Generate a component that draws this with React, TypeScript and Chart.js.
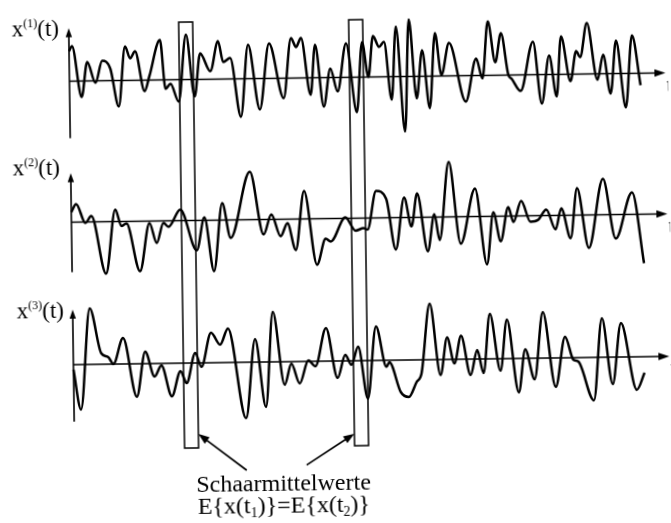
import React, { useEffect, useRef } from "react";
import { Chart, registerables } from "chart.js";

Chart.register(...registerables);

// ---- data: time samples (t) and values of the three sample functions ----
const sig1T = [0, 3, 12, 18, 26, 33, 41, 49, 56, 61, 66, 75, 80, 91, 96, 101, 109, 117, 125, 131, 141, 149, 154, 161, 171, 179, 190, 200, 214, 222, 227, 232, 241, 246, 254, 261, 268, 277, 287, 293, 299, 304, 310, 315, 322, 327, 335, 340, 347, 353, 360, 366, 372, 380, 396, 407, 413, 419, 426, 432, 439, 442, 451, 464, 472, 480, 487, 492, 501, 507, 511, 518, 528, 534, 541, 547, 556, 563, 571];
const sig1V = [3.0, 3.5, -1.6, 1.9, -0.2, 2.0, 1.2, -2.6, 3.4, 2.2, 2.9, -1.1, 0.4, 4.0, -0.9, -0.4, -2.2, 4.5, -1.7, 2.6, 0.8, 3.8, 1.7, 2.1, -3.8, 3.4, -3.1, 3.5, -2.0, 4.0, 3.1, 4.0, -1.7, 3.3, -2.9, 0.9, -1.4, 3.4, -3.5, 3.5, 0.0, 4.1, 3.0, 3.5, -2.3, 5.0, -5.5, 5.7, -2.2, 2.6, -3.2, 4.3, 0.1, 3.3, -2.6, 1.7, -0.3, 5.4, 1.3, 4.2, 0.0, -0.35, -1.6, 3.3, -2.9, 1.9, -2.2, 3.8, -0.7, 2.3, 1.7, 5.1, -0.6, 1.9, -2.0, 3.3, -3.4, 3.8, -1.2];

const sig2T = [0, 5, 14, 20, 34, 44, 50, 55, 68, 78, 85, 92, 97, 109, 125, 133, 142, 151, 159, 179, 192, 200, 209, 216, 224, 233, 245, 254, 259, 274, 284, 292, 296, 305, 315, 324, 333, 340, 346, 356, 363, 368, 378, 389, 404, 415, 422, 429, 437, 442, 450, 459, 467, 475, 484, 490, 499, 506, 517, 532, 544, 561, 572];
const sig2V = [1.0, 1.8, -0.1, 0.6, -5.2, 1.2, -0.45, -0.2, -5.0, -0.2, -2.2, -0.2, -0.6, 1.1, -3.0, 0.3, -5.1, 1.7, -1.8, 4.8, -1.5, 0.5, -1.7, -0.4, -3.1, 2.8, -4.6, -2.0, -2.3, 0.1, -1.25, -1.0, -1.15, 2.7, 1.9, -3.2, 2.0, -0.9, 2.4, -3.4, 0.3, -2.3, 5.5, -2.7, 2.8, -4.8, 0.4, -2.5, 0.9, -0.6, 1.5, -0.6, -0.4, 0.6, -1.4, 0.7, -2.3, 2.7, -3.3, 3.6, -2.4, 2.2, -4.9];

const sig3T = [0, 7, 17, 28, 35, 40, 50, 63, 72, 81, 88, 98, 107, 113, 122, 128, 138, 147, 155, 172, 182, 192, 200, 211, 218, 226, 235, 242, 253, 264, 272, 278, 285, 294, 303, 313, 316, 327, 335, 343, 348, 357, 367, 374, 381, 388, 397, 404, 410, 417, 427, 434, 445, 452, 461, 470, 482, 492, 500, 505, 520, 529, 539, 548, 563, 571];
const sig3V = [-0.5, -4.5, 5.6, 1.1, 0.7, 0.0, 2.6, -3.3, 1.2, -1.3, -0.2, -3.3, -0.8, -2.0, 1.0, -0.4, 3.0, 1.8, 3.4, -5.6, 2.3, -4.5, 5.0, -2.3, -0.2, -2.2, 0.1, -0.5, 3.3, -1.7, 0.6, -0.4, 1.4, -3.8, 3.4, -0.65, -0.2, -3.2, -3.7, -2.2, -1.35, 5.6, -1.55, 2.2, -0.4, 2.35, -1.6, 0.9, -1.4, 4.5, -1.2, 3.9, -3.4, 0.9, -2.1, 4.6, -2.9, 2.1, -0.2, -0.4, -4.3, 3.9, -2.7, 3.4, -3.3, -1.6];

// text
const SIGNAL_LABELS = ["1", "2", "3"];
const AXIS_LABEL = "t";
const CAPTION_1 = "Schaarmittelwerte";
const CAPTION_2_PARTS = ["E{x(t", "1", ")}=E{x(t", "2", ")}"];

// time instants marked by the windows (t-ranges)
const WINDOW_T = [
  [110, 124],
  [280, 294],
];

const FONT = "'Liberation Serif', 'Times New Roman', serif";

export default function App() {
  const ref = useRef<HTMLCanvasElement>(null);

  useEffect(() => {
    const canvas = ref.current!;
    const pts = (ts: number[], vs: number[]) => ts.map((t, i) => ({ x: t, y: vs[i] }));

    const overlay = {
      id: "overlay",
      afterDatasetsDraw(chart: any) {
        const ctx: CanvasRenderingContext2D = chart.ctx;
        const xs = chart.scales.x;
        const yScales = [chart.scales.y1, chart.scales.y2, chart.scales.y3];
        ctx.save();
        ctx.strokeStyle = "#000";
        ctx.fillStyle = "#000";
        ctx.lineCap = "butt";

        const line = (x1: number, y1: number, x2: number, y2: number, w: number) => {
          ctx.lineWidth = w;
          ctx.beginPath();
          ctx.moveTo(x1, y1);
          ctx.lineTo(x2, y2);
          ctx.stroke();
        };
        const head = (tx: number, ty: number, fx: number, fy: number, len: number, hw: number) => {
          const a = Math.atan2(ty - fy, tx - fx);
          const bx = tx - Math.cos(a) * len;
          const by = ty - Math.sin(a) * len;
          ctx.beginPath();
          ctx.moveTo(tx, ty);
          ctx.lineTo(bx + Math.sin(a) * hw, by - Math.cos(a) * hw);
          ctx.lineTo(bx - Math.sin(a) * hw, by + Math.cos(a) * hw);
          ctx.closePath();
          ctx.fill();
        };
        const mixed = (parts: { s: string; size: number; dy: number }[], x: number, y: number, center: boolean) => {
          let w = 0;
          parts.forEach((p) => {
            ctx.font = `${p.size}px ${FONT}`;
            w += ctx.measureText(p.s).width;
          });
          let cx = center ? x - w / 2 : x;
          ctx.textBaseline = "alphabetic";
          ctx.textAlign = "left";
          parts.forEach((p) => {
            ctx.font = `${p.size}px ${FONT}`;
            ctx.fillText(p.s, cx, y + p.dy);
            cx += ctx.measureText(p.s).width;
          });
        };

        const vTop = [5.3, 4.9, 5.5];
        const vBot = [-5.7, -5.0, -5.7];
        const lblY = [4.6, 4.8, 4.7];
        const lblT = [-57, -58, -56];
        const xa = xs.getPixelForValue(0);
        const xe = xs.getPixelForValue(596);

        yScales.forEach((ys: any, k: number) => {
          const y0 = ys.getPixelForValue(0);
          // time axis
          line(xa, y0, xe - 8, y0, 1.6);
          head(xe, y0, xa, y0, 11, 3.8);
          // value axis
          const yt = ys.getPixelForValue(vTop[k]);
          const yb = ys.getPixelForValue(vBot[k]);
          line(xa, yb, xa, yt + 7, 1.6);
          head(xa, yt, xa, yb, 9, 3.2);
          // label x^(k)(t)
          mixed(
            [
              { s: "x", size: 23, dy: 0 },
              { s: "(" + SIGNAL_LABELS[k] + ")", size: 12, dy: -9 },
              { s: "(t)", size: 23, dy: 0 },
            ],
            xs.getPixelForValue(lblT[k]),
            ys.getPixelForValue(lblY[k]),
            false
          );
          // t at axis end
          ctx.font = `23px ${FONT}`;
          ctx.fillText(AXIS_LABEL, xs.getPixelForValue(597), ys.getPixelForValue(-1.9));
        });

        // windows spanning all three functions
        const topY = yScales[0].getPixelForValue(5.75);
        const botY = yScales[2].getPixelForValue(-8.5);
        WINDOW_T.forEach(([a, b]) => {
          ctx.lineWidth = 1.5;
          const xl = xs.getPixelForValue(a);
          const xr = xs.getPixelForValue(b);
          ctx.strokeRect(xl, topY, xr - xl, botY - topY);
        });

        // caption
        const y3 = yScales[2];
        const cx = xs.getPixelForValue(208.5);
        mixed([{ s: CAPTION_1, size: 24, dy: 0 }], cx, y3.getPixelForValue(-12.93), true);
        mixed(
          CAPTION_2_PARTS.map((s, i) => ({ s, size: i % 2 === 1 ? 14 : 24, dy: i % 2 === 1 ? 4 : 0 })),
          cx,
          y3.getPixelForValue(-15.13),
          true
        );

        // arrows from caption to windows
        const arrows = [
          [171.8, -10.8, WINDOW_T[0][1], -7.1],
          [231.8, -10.36, WINDOW_T[1][0], -7.3],
        ];
        arrows.forEach(([t1, v1, t2, v2]) => {
          const x1 = xs.getPixelForValue(t1);
          const y1 = y3.getPixelForValue(v1);
          const x2 = xs.getPixelForValue(t2);
          const y2 = y3.getPixelForValue(v2);
          line(x1, y1, x2 + (x1 - x2) * 0.15, y2 + (y1 - y2) * 0.15, 1.7);
          head(x2, y2, x1, y1, 11, 4);
        });

        ctx.restore();
      },
    };

    const ds = (data: any[], axis: string) => ({
      data,
      yAxisID: axis,
      xAxisID: "x",
      borderColor: "#000",
      borderWidth: 2.5,
      pointRadius: 0,
      fill: false,
      cubicInterpolationMode: "monotone" as const,
    });

    const chart = new Chart(canvas, {
      type: "line",
      data: {
        datasets: [ds(pts(sig1T, sig1V), "y1"), ds(pts(sig2T, sig2V), "y2"), ds(pts(sig3T, sig3V), "y3")],
      },
      options: {
        animation: false,
        responsive: false,
        events: [],
        layout: { padding: 0 },
        plugins: { legend: { display: false }, tooltip: { enabled: false } },
        scales: {
          x: { type: "linear", display: false, min: -72, max: 599 },
          y1: { type: "linear", display: false, min: -44.55, max: 7.75 },
          y2: { type: "linear", display: false, min: -30.45, max: 21.85 },
          y3: { type: "linear", display: false, min: -16.2, max: 36.1 },
        },
      },
      plugins: [overlay],
    } as any);

    return () => chart.destroy();
  }, []);

  return (
    <div style={{ position: "absolute", left: 0, top: 0, width: 671, height: 523, overflow: "hidden", background: "#fff" }}>
      <canvas
        ref={ref}
        width={671}
        height={523}
        style={{ display: "block", width: 671, height: 523, transform: "rotate(-0.8deg)" }}
      />
    </div>
  );
}
